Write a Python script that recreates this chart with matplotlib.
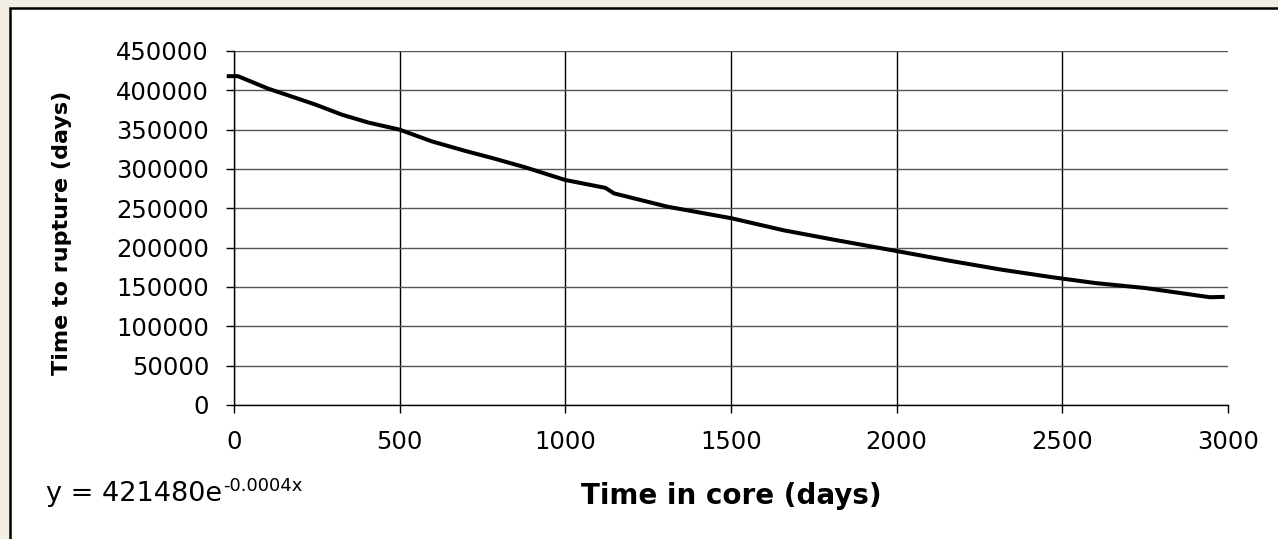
import matplotlib
matplotlib.use("Agg")
import matplotlib.pyplot as plt
from matplotlib.patches import Rectangle

# Data
time_in_core = [-22, 12, 104, 175, 245, 326, 406, 500, 598, 698, 779, 880, 1000, 1121,
                1147, 1309, 1500, 1660, 1812, 2009, 2165, 2317, 2468, 2600, 2750, 2945, 2990]
time_to_rupture = [418000, 418000, 402000, 392000, 382000, 369000, 359000, 350000, 335000,
                   323000, 314000, 302000, 286000, 276000, 269000, 252000, 237500, 222000,
                   210000, 195000, 183000, 172000, 162500, 155000, 148700, 137000, 137500]
x_ticks = [0, 500, 1000, 1500, 2000, 2500, 3000]
y_ticks = [0, 50000, 100000, 150000, 200000, 250000, 300000, 350000, 400000, 450000]
x_label = "Time in core (days)"
y_label = "Time to rupture (days)"
eq_main = "y = 421480e"
eq_exp = "-0.0004x"

plt.rcParams['font.family'] = ['DejaVu Sans']

W, H = 1278, 539
fig = plt.figure(figsize=(W / 100, H / 100), dpi=100)
fig.patch.set_facecolor('#F3EEE4')

# white framed panel (extends past right and bottom edges)
top = 1 - 8 / H
panel = Rectangle((10 / W, -0.2), 1.2, top + 0.2, transform=fig.transFigure,
                  facecolor='white', edgecolor='black', linewidth=1.8, zorder=0)
fig.add_artist(panel)

ax = fig.add_axes([234 / W, 1 - 405 / H, (1228 - 234) / W, (405 - 51) / H])
ax.set_facecolor('none')

ax.plot(time_in_core, time_to_rupture, color='black', linewidth=2.9,
        solid_capstyle='butt', clip_on=False, zorder=3)

ax.set_xlim(0, 3000)
ax.set_ylim(0, 450000)
ax.set_xticks(x_ticks)
ax.set_yticks(y_ticks)
ax.set_xticklabels([str(v) for v in x_ticks])
ax.set_yticklabels([str(v) for v in y_ticks])

ax.yaxis.grid(True, color='#555555', linewidth=1.0)
ax.xaxis.grid(True, color='black', linewidth=1.0)
ax.get_xgridlines()[-1].set_visible(False)
ax.set_axisbelow(True)

for s in ['top', 'right']:
    ax.spines[s].set_visible(False)
for s in ['left', 'bottom']:
    ax.spines[s].set_color('black')
    ax.spines[s].set_linewidth(1.0)

ax.tick_params(axis='both', direction='out', length=6, width=1.0, colors='black',
               labelsize=17.5)
ax.tick_params(axis='y', pad=12)
ax.tick_params(axis='x', pad=12)

fig.text(731 / W, 1 - 496 / H, x_label, ha='center', va='center',
         fontsize=20, fontweight='bold')
fig.text(62 / W, 1 - 233 / H, y_label, ha='center', va='center', rotation=90,
         fontsize=16, fontweight='bold')
t_main = fig.text(46 / W, 1 - 494 / H, eq_main, ha='left', va='center', fontsize=19.5)
fig.get_figure().canvas.draw()
fig.add_artist(matplotlib.text.Annotation(eq_exp, xy=(1.0, 0.82), xycoords=t_main,
                                          xytext=(1, 0), textcoords='offset points',
                                          ha='left', va='center', fontsize=13))

fig.savefig('out.png', dpi=100, facecolor=fig.get_facecolor())
